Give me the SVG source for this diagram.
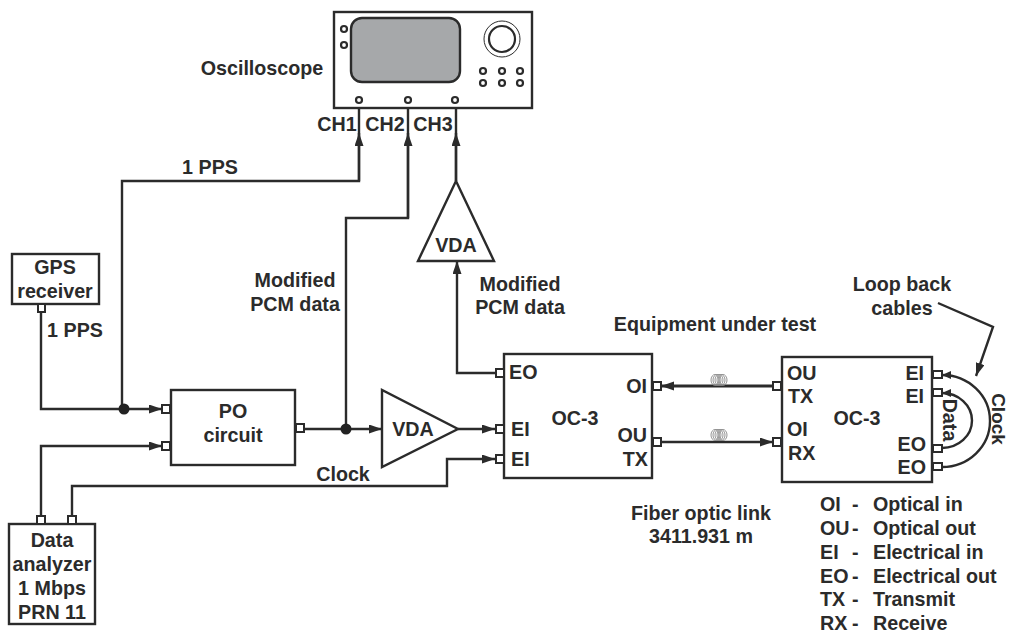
<svg xmlns="http://www.w3.org/2000/svg" width="1010" height="633" viewBox="0 0 1010 633">
<style>
text{font-family:"Liberation Sans",Arial,sans-serif;font-weight:700;font-size:19.7px;fill:#2b2b2b;text-anchor:middle}
.s{text-anchor:start}.e{text-anchor:end}
.box{fill:#fff;stroke:#2b2b2b;stroke-width:2.4}
.port{fill:#fff;stroke:#2b2b2b;stroke-width:2}
.w{fill:none;stroke:#2b2b2b;stroke-width:2.4}
.k{fill:#fff;stroke:#2b2b2b;stroke-width:2.2}
.coil{fill:none;stroke:#888;stroke-width:.9}
</style>
<defs>
<marker id="a" markerUnits="userSpaceOnUse" markerWidth="14" markerHeight="10" refX="13" refY="4.5" orient="auto"><path d="M0 0L13 4.5L0 9z" fill="#2b2b2b"/></marker>
<marker id="b" markerUnits="userSpaceOnUse" markerWidth="10" markerHeight="8" refX="9" refY="4" orient="auto"><path d="M0 0L9 4L0 8z" fill="#2b2b2b"/></marker>
</defs>
<rect width="1010" height="633" fill="#fff"/>
<g id="connectors">
<path class="w" d="M359 108V181H122V409" />
<path class="w" marker-end="url(#a)" d="M359 181V133"/>
<path class="w" d="M408 108V218H346V429"/>
<path class="w" marker-end="url(#a)" d="M408 218V133"/>
<path class="w" d="M456 108V181"/>
<path class="w" marker-end="url(#a)" d="M456 181V133"/>
<path class="w" d="M41 312V409H162" marker-end="url(#a)"/>
<path class="w" d="M41 516V446H162" marker-end="url(#a)"/>
<path class="w" d="M72 516V486H447V459H495" marker-end="url(#a)"/>
<path class="w" d="M304 429H382" marker-end="url(#a)"/>
<path class="w" d="M458 429H495" marker-end="url(#a)"/>
<path class="w" d="M495 373H457V261" marker-end="url(#a)"/>
<path class="w" style="stroke-width:3" d="M773 386H661" marker-end="url(#a)"/>
<path class="w" d="M661 442H773" marker-end="url(#a)"/>
<path class="w" d="M942 467A48 46 0 0 0 942 375" marker-end="url(#b)"/>
<path class="w" d="M942 448A30 27.5 0 0 0 942 393" marker-end="url(#b)"/>
<path class="w" d="M938 303L993 327L976 376" marker-end="url(#a)"/>
<circle cx="124" cy="409" r="5.5" fill="#222"/>
<circle cx="346" cy="429" r="5.5" fill="#222"/>
<g id="coil-top" class="coil"><ellipse cx="715" cy="380" rx="4" ry="5.5"/><ellipse cx="717" cy="380" rx="4" ry="5.5"/><ellipse cx="719" cy="380" rx="4" ry="5.5"/><ellipse cx="721" cy="380" rx="4" ry="5.5"/><ellipse cx="723" cy="380" rx="4" ry="5.5"/></g>
<g id="coil-bottom" class="coil"><ellipse cx="715" cy="435" rx="4" ry="5.5"/><ellipse cx="717" cy="435" rx="4" ry="5.5"/><ellipse cx="719" cy="435" rx="4" ry="5.5"/><ellipse cx="721" cy="435" rx="4" ry="5.5"/><ellipse cx="723" cy="435" rx="4" ry="5.5"/></g>
</g>
<g id="oscilloscope">
<rect class="box" x="334" y="12" width="198" height="96"/>
<rect x="351" y="18" width="109" height="64" rx="11" fill="#a6a8aa" stroke="#2b2b2b" stroke-width="2.4"/>
<circle class="k" cx="344" cy="29" r="3"/><circle class="k" cx="344" cy="45" r="3"/>
<circle cx="502" cy="39" r="18" fill="#fff" stroke="#2b2b2b" stroke-width="1"/><circle cx="502" cy="39" r="13" fill="#fff" stroke="#2b2b2b" stroke-width="2.2"/>
<circle class="k" cx="483" cy="71" r="3"/><circle class="k" cx="502" cy="71" r="3"/><circle class="k" cx="520" cy="71" r="3"/>
<circle class="k" cx="483" cy="83" r="3"/><circle class="k" cx="502" cy="83" r="3"/><circle class="k" cx="520" cy="83" r="3"/>
<circle class="k" cx="359" cy="100" r="3"/><circle class="k" cx="408" cy="100" r="3"/><circle class="k" cx="455" cy="100" r="3"/>
<text x="262" y="75">Oscilloscope</text>
<text x="337" y="131">CH1</text><text x="385" y="131">CH2</text><text x="433" y="131">CH3</text>
</g>
<g id="gps">
<rect class="box" x="12" y="254" width="87" height="50"/>
<rect class="port" x="38" y="304" width="7" height="8"/>
<text x="55" y="274">GPS</text><text x="55" y="298">receiver</text>
</g>
<g id="po">
<rect class="box" x="171" y="390" width="124" height="75"/>
<rect class="port" x="162" y="405" width="8" height="8"/><rect class="port" x="162" y="442" width="8" height="8"/><rect class="port" x="296" y="424" width="8" height="8"/>
<text x="233" y="418">PO</text><text x="233" y="442">circuit</text>
</g>
<g id="analyzer">
<rect class="box" x="9" y="524" width="86" height="100"/>
<rect class="port" x="37" y="516" width="8" height="8"/><rect class="port" x="68" y="516" width="8" height="8"/>
<text x="52" y="547">Data</text><text x="52" y="571">analyzer</text><text x="52" y="595">1 Mbps</text><text x="52" y="619">PRN 11</text>
</g>
<g id="vda1"><path class="box" d="M382 390V467L458 429z"/><text x="413" y="436">VDA</text></g>
<g id="vda2"><path class="box" d="M456 181L418 261H494z"/><text x="456" y="252">VDA</text></g>
<g id="oc3-left">
<rect class="box" x="504" y="354" width="148" height="124"/>
<rect class="port" x="496" y="369" width="8" height="8"/><rect class="port" x="496" y="425" width="8" height="8"/><rect class="port" x="496" y="455" width="8" height="8"/><rect class="port" x="653" y="382" width="8" height="8"/><rect class="port" x="653" y="438" width="8" height="8"/>
<text x="575" y="425">OC-3</text>
<text class="s" x="509" y="379">EO</text><text class="s" x="511" y="436">EI</text><text class="s" x="511" y="466">EI</text>
<text class="e" x="647" y="393">OI</text><text class="e" x="647" y="442">OU</text><text class="e" x="648" y="466">TX</text>
</g>
<g id="oc3-right">
<rect class="box" x="782" y="357" width="150" height="125"/>
<rect class="port" x="773" y="382" width="8" height="8"/><rect class="port" x="773" y="438" width="8" height="8"/>
<rect class="port" x="933" y="371" width="9" height="7"/><rect class="port" x="933" y="389" width="9" height="7"/><rect class="port" x="933" y="445" width="9" height="7"/><rect class="port" x="933" y="463" width="9" height="7"/>
<text x="857" y="425">OC-3</text>
<text class="s" x="787" y="380">OU</text><text class="s" x="788" y="403">TX</text><text class="s" x="787" y="436">OI</text><text class="s" x="788" y="460">RX</text>
<text class="e" x="924" y="380">EI</text><text class="e" x="924" y="403">EI</text><text class="e" x="926" y="451">EO</text><text class="e" x="926" y="474">EO</text>
</g>
<g id="labels">
<text x="210" y="174">1 PPS</text>
<text x="75" y="337">1 PPS</text>
<text x="295" y="287">Modified</text><text x="295" y="311">PCM data</text>
<text x="520" y="291">Modified</text><text x="520" y="314">PCM data</text>
<text x="343" y="481">Clock</text>
<text x="715" y="331">Equipment under test</text>
<text x="902" y="291">Loop back</text><text x="902" y="315">cables</text>
<text x="701" y="520">Fiber optic link</text><text x="701" y="543">3411.931 m</text>
<text transform="translate(943 420) rotate(90)">Data</text>
<text style="font-size:19px" transform="translate(992 419) rotate(90)">Clock</text>
<text class="s" x="820" y="511">OI</text><text class="s" x="852" y="511">-</text><text class="s" x="873" y="511">Optical in</text>
<text class="s" x="820" y="535">OU</text><text class="s" x="852" y="535">-</text><text class="s" x="873" y="535">Optical out</text>
<text class="s" x="820" y="559">EI</text><text class="s" x="852" y="559">-</text><text class="s" x="873" y="559">Electrical in</text>
<text class="s" x="820" y="583">EO</text><text class="s" x="852" y="583">-</text><text class="s" x="873" y="583">Electrical out</text>
<text class="s" x="820" y="606">TX</text><text class="s" x="852" y="606">-</text><text class="s" x="873" y="606">Transmit</text>
<text class="s" x="820" y="630">RX</text><text class="s" x="852" y="630">-</text><text class="s" x="873" y="630">Receive</text>
</g>
</svg>
